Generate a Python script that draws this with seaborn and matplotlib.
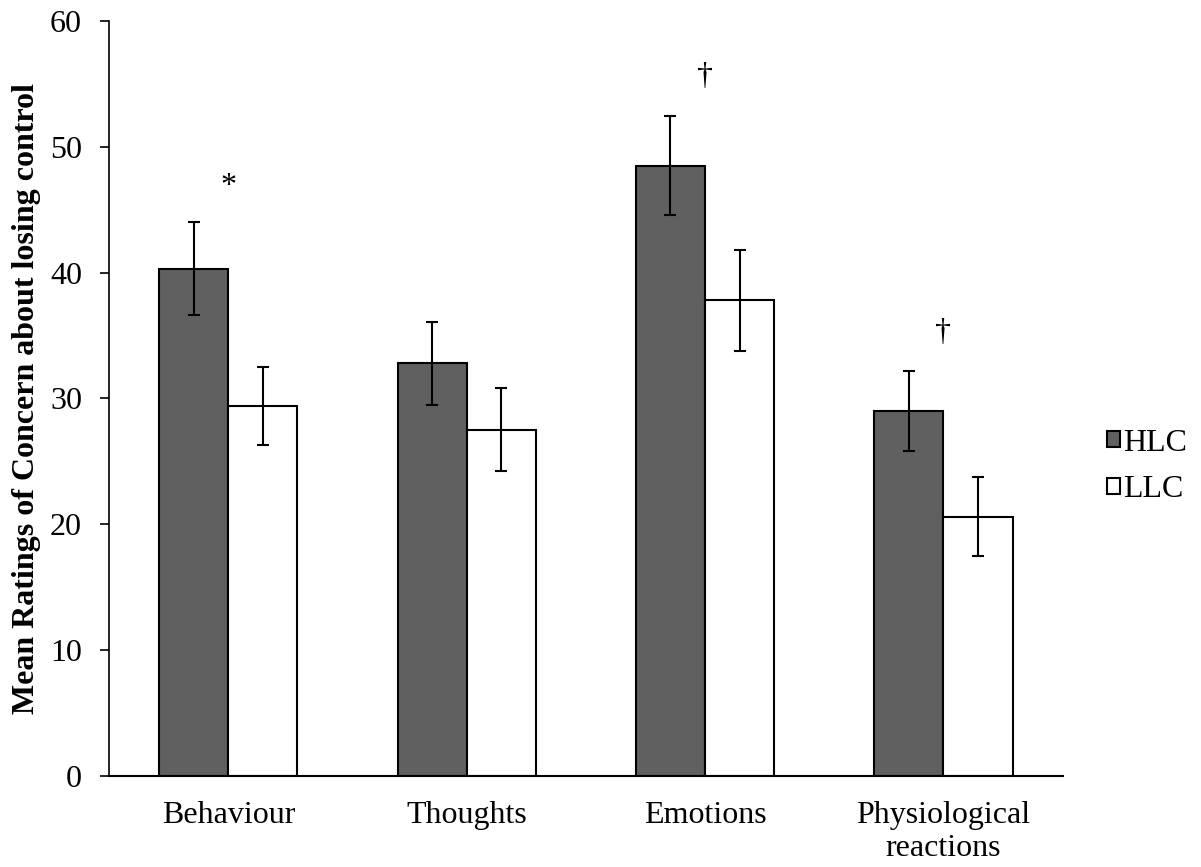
import numpy as np
import pandas as pd
import matplotlib
matplotlib.use("Agg")
import matplotlib.pyplot as plt
import seaborn as sns

# Mean concern ratings and standard errors per domain and group
categories = ["Behaviour", "Thoughts", "Emotions", "Physiological\nreactions"]
groups = ["HLC", "LLC"]
hlc_means = [40.3, 32.8, 48.5, 29.0]
llc_means = [29.4, 27.5, 37.8, 20.6]
hlc_err = [3.7, 3.3, 3.95, 3.2]
llc_err = [3.1, 3.3, 4.0, 3.15]
# significance markers placed above each domain
marks = ["*", "", "\u2020", "\u2020"]
mark_y = [46.8, None, 55.6, 35.2]

sns.set_style("white", {"text.color": "black", "axes.labelcolor": "black",
                        "xtick.color": "black", "ytick.color": "black",
                        "axes.edgecolor": "black"})
plt.rcParams["font.family"] = ["Liberation Serif", "DejaVu Serif"]

FS = 23

df = pd.DataFrame({
    "domain": categories * 2,
    "group": [groups[0]] * 4 + [groups[1]] * 4,
    "mean": hlc_means + llc_means,
})

fig = plt.figure(figsize=(12.01, 8.67), dpi=100)
ax = fig.add_axes([0.0908, 0.105, 0.794, 0.871])

bar_w = 0.58
sns.barplot(data=df, x="domain", y="mean", hue="group", order=categories,
            hue_order=groups, palette={"HLC": "#606060", "LLC": "#ffffff"},
            edgecolor="black", linewidth=1.5, width=bar_w, errorbar=None,
            ax=ax, legend=True)

# error bars centred on each bar
xs = np.arange(len(categories))
off = bar_w / 4
ax.errorbar(xs - off, hlc_means, yerr=hlc_err, fmt="none", ecolor="black",
            elinewidth=1.5, capsize=4.3, capthick=1.5, zorder=5)
ax.errorbar(xs + off, llc_means, yerr=llc_err, fmt="none", ecolor="black",
            elinewidth=1.5, capsize=4.3, capthick=1.5, zorder=5)

for x, m, y in zip(xs, marks, mark_y):
    if m:
        ax.text(x, y, m, ha="center", va="center", fontsize=FS, color="black")

ax.set_xlim(-0.5, len(categories) - 0.5)
ax.set_ylim(0, 60)
ax.set_yticks(range(0, 61, 10))
ax.set_xlabel("")
ax.set_ylabel("Mean Ratings of Concern about losing control", fontsize=FS,
              fontweight="bold", color="black")
ax.yaxis.set_label_coords(-0.071, 0.5)

sns.despine(ax=ax)
ax.spines["left"].set_linewidth(1.2)
ax.spines["bottom"].set_linewidth(1.5)
ax.tick_params(axis="y", which="major", direction="out", length=6.5, width=1.2,
               labelsize=FS, pad=13, left=True, colors="black")
ax.tick_params(axis="x", length=0, labelsize=FS, pad=18, colors="black")
for lbl in ax.get_xticklabels():
    lbl.set_linespacing(1.2)

leg = ax.legend(loc="center left", bbox_to_anchor=(1.047, 0.41), frameon=False,
                fontsize=FS, handlelength=0.38, handleheight=0.38,
                handletextpad=0.1, labelspacing=0.55, borderaxespad=0,
                borderpad=0)
for t in leg.get_texts():
    t.set_color("black")

fig.savefig("out.png", dpi=100, facecolor="white")
